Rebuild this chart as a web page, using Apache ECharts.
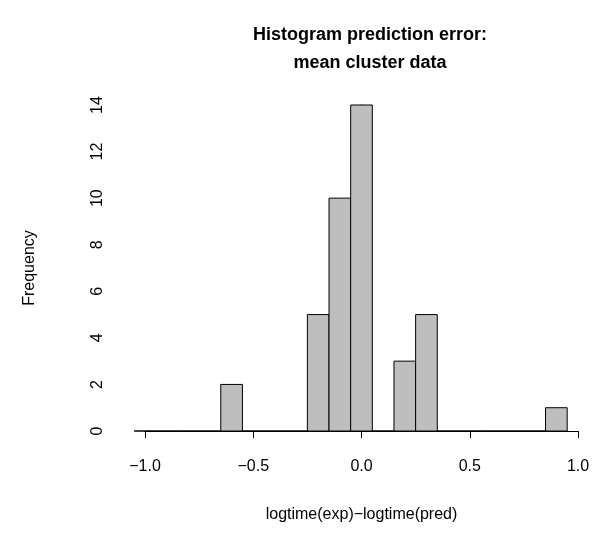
<!doctype html>
<html>
<head>
<meta charset="utf-8">
<title>Histogram</title>
<script src="https://cdn.jsdelivr.net/npm/echarts@6/dist/echarts.min.js"></script>
</head>
<body style="margin:0;background:#fff">
<div id="main" style="width:607px;height:548px;"></div>
<script type="text/javascript">
// histogram bins (start of each bin, width 0.1) and counts
var binStarts = [-1.05,-0.95,-0.85,-0.75,-0.65,-0.55,-0.45,-0.35,-0.25,-0.15,-0.05,0.05,0.15,0.25,0.35,0.45,0.55,0.65,0.75,0.85];
var counts    = [0,0,0,0,2,0,0,0,5,10,14,0,3,5,0,0,0,0,0,1];
var binWidth = 0.1;
var xTicks = [-1.0,-0.5,0.0,0.5,1.0];
var yTicks = [0,2,4,6,8,10,12,14];

var chart = echarts.init(document.getElementById('main'));
var font = '"Liberation Sans", Arial, sans-serif';

var data = binStarts.map(function(s, i){ return [s, s + binWidth, counts[i]]; });

chart.setOption({
    animation: false,
    title: {
        text: 'Histogram prediction error:\nmean cluster data',
        left: 365, top: 16, textAlign: 'center',
        textStyle: {fontFamily: font, fontSize: 18, fontWeight: 'bold', color: '#000', lineHeight: 28}
    },
    grid: {left: 145, width: 433, top: 105, height: 326},
    xAxis: {
        type: 'value', min: -1, max: 1, interval: 0.5, offset: 16,
        name: 'logtime(exp)\u2212logtime(pred)', nameLocation: 'middle', nameGap: 60,
        nameTextStyle: {fontFamily: font, fontSize: 16, color: '#000'},
        axisLine: {show: true, lineStyle: {color: '#000'}},
        axisTick: {show: true, length: 7, lineStyle: {color: '#000'}},
        axisLabel: {fontFamily: font, fontSize: 16, color: '#000', margin: 12,
            formatter: function(v){ return v.toFixed(1).replace('-', '\u2212'); }},
        splitLine: {show: false}
    },
    yAxis: {
        type: 'value', min: 0, max: 14, interval: 2, offset: 27,
        name: 'Frequency', nameLocation: 'middle', nameGap: 80, nameRotate: 90,
        nameTextStyle: {fontFamily: font, fontSize: 16, color: '#000'},
        axisLine: {show: true, lineStyle: {color: '#000'}},
        axisTick: {show: true, length: 7, lineStyle: {color: '#000'}},
        axisLabel: {fontFamily: font, fontSize: 16, color: '#000', rotate: 90, margin: 12},
        splitLine: {show: false}
    },
    series: [{
        type: 'custom',
        clip: false,
        data: data,
        renderItem: function(params, api){
            var p0 = api.coord([api.value(0), api.value(2)]);
            var p1 = api.coord([api.value(1), 0]);
            return {
                type: 'rect',
                shape: {x: p0[0], y: p0[1], width: p1[0] - p0[0], height: p1[1] - p0[1]},
                style: {fill: '#bebebe', stroke: '#000', lineWidth: 1}
            };
        }
    }]
});
</script>
</body>
</html>
